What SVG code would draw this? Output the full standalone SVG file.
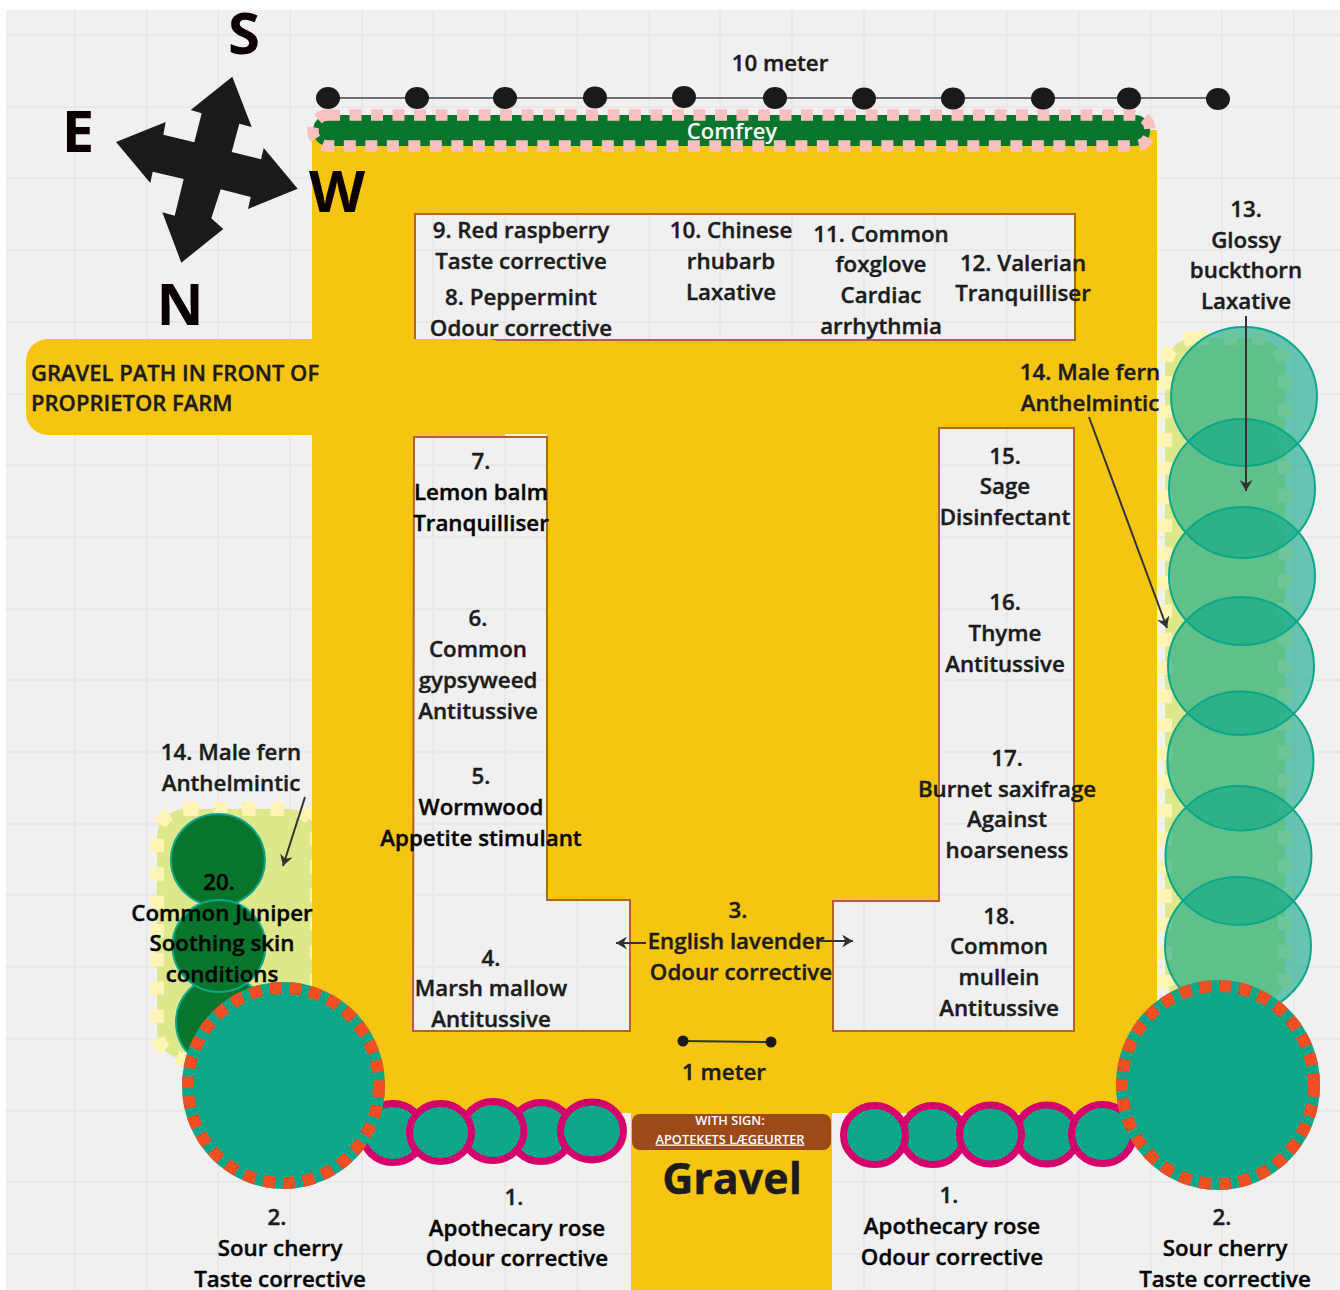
<svg xmlns="http://www.w3.org/2000/svg" width="1340" height="1290" viewBox="0 0 1340 1290">
<style>
text{font-family:"Open Sans","Liberation Sans",sans-serif;font-weight:600;font-size:22.3px;fill:#1c1c1c;stroke:#1c1c1c;stroke-width:.4px;text-anchor:middle}
.l{text-anchor:start;font-size:22px}
.k{fill:#050505;stroke:#050505}
.c{font-size:58px;font-weight:700;fill:#0a0000;stroke:none}
.w{fill:#fff;stroke:none}
.bed{fill:none;stroke:#b5622a;stroke-width:2}
.hedge{fill:#dde88a;stroke:#fff4b3;stroke-width:14;stroke-dasharray:13.5 15}
.buck{fill:#0ca789;fill-opacity:.6;stroke:#0ca789;stroke-width:2}
.jun{fill:#08752c;stroke:#0ca789;stroke-width:2}
.rose{fill:#0ca789;stroke:#d5006d;stroke-width:7}
.cherry{fill:#0ca789}
.ring{fill:none;stroke:#f04e23;stroke-width:12;stroke-dasharray:12 8}
.dot{fill:#1a1a1a}
.conn{fill:none;stroke:#333;stroke-width:2}
</style>
<defs>
<marker id="a" markerUnits="userSpaceOnUse" markerWidth="11" markerHeight="13" refX="11" refY="6.5" orient="auto"><path d="M11,6.5 L0,0 L3.5,6.5 L0,13 Z" fill="#333"/></marker>
</defs>
<rect width="1340" height="1290" fill="#fff"/>
<rect x="6" y="10" width="1334" height="1280" fill="#f0f0f0"/>
<path id="grid" fill="none" stroke="#e8e8e8" stroke-width="2" d="M75,10V1290M147,10V1290M218,10V1290M290,10V1290M362,10V1290M433,10V1290M505,10V1290M577,10V1290M649,10V1290M720,10V1290M792,10V1290M864,10V1290M935,10V1290M1007,10V1290M1079,10V1290M1151,10V1290M1222,10V1290M1294,10V1290M6,35H1340M6,107H1340M6,178H1340M6,250H1340M6,322H1340M6,394H1340M6,465H1340M6,537H1340M6,609H1340M6,680H1340M6,752H1340M6,824H1340M6,895H1340M6,967H1340M6,1039H1340M6,1111H1340M6,1182H1340M6,1254H1340"/>

<g id="juniper-bed"><rect class="hedge" x="157" y="809" width="160" height="250" rx="28"/></g>

<g id="gravel-paths">
<path fill="#f6c512" fill-rule="evenodd" d="M312,130H1157V1113H832V1290H631V1113H312Z M415,214H1075V340H415Z M414,437H547V900H630V1031H413Z M939,428H1074V1031H833V901H939Z"/>
<path class="bed" d="M415,340V214H1075V340H415"/>
<path class="bed" d="M414,437H547V900H630V1031H413Z"/>
<path class="bed" d="M939,428H1074V1031H833V901H939Z"/>
<rect x="26" y="339" width="484" height="96" rx="22" fill="#f6c512"/>
<rect x="505" y="434" width="42" height="2" fill="#f0f0f0"/>
</g>

<g id="comfrey"><rect x="313" y="115" width="837" height="31" rx="15" fill="#08752c" stroke="#fcc0c0" stroke-width="11.500" stroke-dasharray="12 9.500"/>
<text class="w" x="732" y="139" style="font-size:22px">Comfrey</text></g>

<g id="buckthorn-bed"><rect class="hedge" x="1165" y="338" width="120" height="667" rx="30"/></g>
<g id="buckthorn">
<ellipse class="buck" cx="1244" cy="396.500" rx="73" ry="69.500"/>
<ellipse class="buck" cx="1242" cy="488.500" rx="73" ry="69.500"/>
<ellipse class="buck" cx="1242" cy="576" rx="73" ry="69"/>
<ellipse class="buck" cx="1241" cy="666" rx="73" ry="69"/>
<ellipse class="buck" cx="1240.500" cy="761" rx="73" ry="69.500"/>
<ellipse class="buck" cx="1238.500" cy="855.500" rx="73" ry="69.500"/>
<ellipse class="buck" cx="1238" cy="946" rx="73" ry="69"/>
</g>
<g id="juniper">
<ellipse class="jun" cx="218" cy="860" rx="47" ry="46"/>
<ellipse class="jun" cx="222" cy="1022" rx="46" ry="46"/>
<ellipse class="jun" cx="219" cy="946" rx="46.500" ry="46"/>
</g>
<g id="roses-left">
<ellipse class="rose" cx="393" cy="1133" rx="31" ry="29.500"/>
<ellipse class="rose" cx="541" cy="1132" rx="31" ry="29.500"/>
<ellipse class="rose" cx="493" cy="1131" rx="31" ry="29.500"/>
<ellipse class="rose" cx="440.500" cy="1132.500" rx="31" ry="29"/>
<ellipse class="rose" cx="592" cy="1131" rx="31.500" ry="29"/>
</g>
<g id="roses-right">
<ellipse class="rose" cx="933" cy="1135" rx="31" ry="29.500"/>
<ellipse class="rose" cx="1047" cy="1134.500" rx="31" ry="29.500"/>
<ellipse class="rose" cx="1102.500" cy="1134" rx="31" ry="29.500"/>
<ellipse class="rose" cx="874.500" cy="1135" rx="31" ry="29.500"/>
<ellipse class="rose" cx="990.500" cy="1134.500" rx="31" ry="29.500"/>
</g>
<g id="cherry-left"><ellipse class="cherry" cx="283.500" cy="1085.500" rx="101.500" ry="103.500"/><ellipse class="ring" cx="283.500" cy="1085.500" rx="95.500" ry="97.500"/></g>
<g id="cherry-right"><ellipse class="cherry" cx="1218" cy="1085" rx="102" ry="105"/><ellipse class="ring" cx="1218" cy="1085" rx="96" ry="99"/></g>

<g id="sign"><rect x="632" y="1114" width="199" height="36" rx="8" fill="#9c4a1a"/>
<text class="w" x="730" y="1125" style="font-size:12.700px">WITH SIGN:</text>
<text class="w" x="730" y="1143.500" style="font-size:12.800px;text-decoration:underline">APOTEKETS LÆGEURTER</text></g>
<text x="732" y="1194" style="font-size:43px;font-weight:700">Gravel</text>

<g id="compass"><polygon fill="#1a1a1a" points="232.300,76.700 251.700,127 239.300,123.700 231.700,152 261,159.300 263.700,148 297.700,188.700 248,209 250.700,197 220.700,189.300 211.300,218.300 223.300,229 181.300,262.700 162.300,212.300 174.700,215.700 183.700,179 152.700,171.700 150.300,183 116,142 165.700,122 163.300,134.700 194.300,142.300 201.700,113.300 190.700,110"/>
<text class="c" x="244" y="54">S</text><text class="c" x="78" y="152">E</text><text class="c" x="337" y="212">W</text><text class="c" x="180" y="325">N</text></g>

<g id="connectors">
<path class="conn" style="stroke:#444;stroke-width:1.700px" d="M328,98H1218"/>
<path class="conn" d="M683,1041L771,1042"/>
<path class="conn" d="M1246,316V491" marker-end="url(#a)"/>
<path class="conn" d="M1089,417L1167,628" marker-end="url(#a)"/>
<path class="conn" d="M305,797L283,866" marker-end="url(#a)"/>
<path class="conn" d="M646,943H616" marker-end="url(#a)"/>
<path class="conn" d="M820,941H853" marker-end="url(#a)"/>
</g>
<g id="scale">
<ellipse class="dot" cx="328" cy="98" rx="12" ry="11"/><ellipse class="dot" cx="417" cy="98" rx="12" ry="11"/><ellipse class="dot" cx="505" cy="98" rx="12" ry="11"/><ellipse class="dot" cx="595" cy="97.500" rx="12" ry="11"/><ellipse class="dot" cx="684" cy="97" rx="12" ry="11"/><ellipse class="dot" cx="775" cy="98" rx="12" ry="11"/><ellipse class="dot" cx="864" cy="98.500" rx="12" ry="11"/><ellipse class="dot" cx="953" cy="98.500" rx="12" ry="11"/><ellipse class="dot" cx="1043" cy="98.500" rx="12" ry="11"/><ellipse class="dot" cx="1129" cy="98.500" rx="12" ry="11"/><ellipse class="dot" cx="1218" cy="99" rx="12" ry="11"/>
<circle class="dot" cx="683" cy="1041" r="5.500"/><circle class="dot" cx="771" cy="1042" r="5.500"/>
<text x="780" y="71">10 meter</text><text x="724" y="1080">1 meter</text></g>

<g id="labels">
<text x="521" y="238">9. Red raspberry</text><text x="521" y="268.500">Taste corrective</text><text x="521" y="305">8. Peppermint</text><text x="521" y="336">Odour corrective</text>
<text x="731" y="238">10. Chinese</text><text x="731" y="269">rhubarb</text><text x="731" y="300">Laxative</text>
<text x="881" y="242">11. Common</text><text x="881" y="272">foxglove</text><text x="881" y="303">Cardiac</text><text x="881" y="334">arrhythmia</text>
<text x="1023" y="271">12. Valerian</text><text x="1023" y="301">Tranquilliser</text>
<text x="1246" y="217">13.</text><text x="1246" y="248">Glossy</text><text x="1246" y="278">buckthorn</text><text x="1246" y="309">Laxative</text>
<text x="1090" y="380">14. Male fern</text><text x="1090" y="411">Anthelmintic</text>
<text class="l" x="31" y="381">GRAVEL PATH IN FRONT OF</text><text class="l" x="31" y="411">PROPRIETOR FARM</text>
<text x="481" y="469">7.</text><text class="k" x="481" y="500">Lemon balm</text><text class="k" x="481" y="530.500">Tranquilliser</text>
<text x="478" y="626">6.</text><text x="478" y="657">Common</text><text x="478" y="688">gypsyweed</text><text x="478" y="718.500">Antitussive</text>
<text x="481" y="784">5.</text><text class="k" x="481" y="815">Wormwood</text><text class="k" x="481" y="845.500">Appetite stimulant</text>
<text x="491" y="965.500">4.</text><text x="491" y="996">Marsh mallow</text><text x="491" y="1027">Antitussive</text>
<text x="1005" y="463.500">15.</text><text x="1005" y="494">Sage</text><text x="1005" y="524.500">Disinfectant</text>
<text x="1005" y="610">16.</text><text x="1005" y="640.500">Thyme</text><text x="1005" y="671.500">Antitussive</text>
<text x="1007" y="766">17.</text><text x="1007" y="796.500">Burnet saxifrage</text><text x="1007" y="827">Against</text><text x="1007" y="858">hoarseness</text>
<text x="999" y="923.500">18.</text><text x="999" y="954">Common</text><text x="999" y="985">mullein</text><text x="999" y="1015.500">Antitussive</text>
<text x="738" y="918">3.</text><text x="736" y="949">English lavender</text><text x="741" y="979.500">Odour corrective</text>
<text x="514" y="1205">1.</text><text class="k" x="517" y="1235.500">Apothecary rose</text><text class="k" x="517" y="1266">Odour corrective</text>
<text x="949" y="1203">1.</text><text class="k" x="952" y="1234">Apothecary rose</text><text class="k" x="952" y="1264.500">Odour corrective</text>
<text x="277" y="1225">2.</text><text class="k" x="280" y="1256">Sour cherry</text><text class="k" x="280" y="1286.500">Taste corrective</text>
<text x="1222" y="1225">2.</text><text class="k" x="1225" y="1256">Sour cherry</text><text class="k" x="1225" y="1286.500">Taste corrective</text>
<text x="231" y="760">14. Male fern</text><text x="231" y="790.500">Anthelmintic</text>
<text class="k" x="219" y="890">20.</text><text class="k" x="222" y="921">Common Juniper</text><text class="k" x="222" y="951">Soothing skin</text><text class="k" x="222" y="982">conditions</text>
</g>
</svg>
